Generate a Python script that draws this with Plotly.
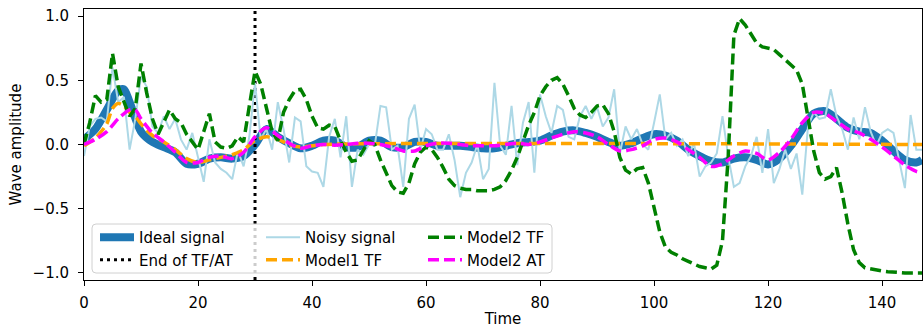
import plotly.graph_objects as go

# ---------------- data ----------------
ideal_t = [0, 2, 4, 6, 7, 8, 10, 12, 14, 16, 18, 20, 22, 24, 26, 28, 30, 32, 34, 36, 38, 40,
           42, 44, 46, 48, 50, 52, 54, 56, 58, 60, 62, 64, 66, 68, 70, 72, 74, 76, 78, 80,
           82, 84, 86, 88, 90, 92, 94, 96, 98, 100, 102, 104, 106, 108, 110, 112, 114, 116,
           118, 120, 122, 124, 126, 128, 130, 132, 134, 136, 138, 140, 142, 144, 146, 147]
ideal_y = [0.04, 0.12, 0.27, 0.42, 0.43, 0.33, 0.1, 0.02, -0.02, -0.06, -0.15, -0.15, -0.11,
           -0.1, -0.11, -0.09, 0.0, 0.12, 0.06, 0.01, -0.03, -0.01, 0.03, 0.03, -0.02, -0.02,
           0.03, 0.03, -0.02, -0.02, 0.02, 0.02, -0.01, -0.01, -0.01, -0.02, -0.03, -0.03,
           -0.01, 0.01, 0.02, 0.03, 0.07, 0.1, 0.11, 0.09, 0.06, 0.02, -0.01, 0.01, 0.05,
           0.08, 0.07, 0.03, -0.04, -0.09, -0.13, -0.14, -0.11, -0.1, -0.12, -0.155, -0.11,
           -0.01, 0.12, 0.24, 0.26, 0.2, 0.13, 0.1, 0.09, 0.03, -0.05, -0.12, -0.14, -0.12]

noisy_y = [-0.09, 0.14, 0.2, 0.21, 0.18, 0.6, 0.33, 0.37, -0.04, 0.2,
           0.53, 0.45, 0.14, 0.09, 0.22, 0.12, 0.2, 0.04, -0.04, 0.09,
           -0.1, -0.29, 0.04, -0.14, -0.19, -0.22, -0.27, -0.05, -0.17, 0.06,
           0.48, 0.04, 0.12, -0.04, 0.33, 0.12, -0.14, 0.21, 0.18, -0.17,
           -0.21, -0.22, -0.33, 0.06, 0.2, -0.1, 0.22, -0.33, -0.04, -0.08,
           0.0, -0.01, 0.3, 0.29, -0.04, -0.01, -0.33, 0.2, 0.31, -0.04,
           0.12, 0.08, -0.04, -0.04, 0.08, -0.12, -0.41, -0.22, -0.14, 0.0,
           -0.27, -0.19, 0.48, -0.01, -0.08, 0.3, -0.16, 0.17, 0.33, -0.22,
           0.39, 0.22, 0.09, 0.3, 0.27, 0.06, 0.04, 0.22, 0.3, 0.2,
           0.29, 0.14, 0.21, 0.43, -0.07, 0.14, 0.04, 0.12, 0.0, -0.04,
           0.17, 0.39, 0.04, 0.09, -0.01, 0.04, -0.09, 0.01, -0.25, -0.17,
           -0.14, -0.07, 0.22, -0.09, -0.33, -0.3, -0.17, -0.09, 0.06, -0.22,
           0.12, -0.3, -0.19, -0.04, -0.19, -0.07, -0.39, 0.14, 0.25, 0.2,
           0.21, 0.43, 0.22, 0.12, -0.04, 0.21, 0.04, 0.29, 0.1, -0.01,
           0.09, 0.12, 0.09, -0.14, -0.34, 0.23, -0.04, -0.04]
noisy_t = list(range(len(noisy_y)))

model1_t = [0, 2, 3, 4, 5, 6, 7, 8, 9, 10, 12, 14, 16, 18, 20, 22, 24, 26, 28, 30, 32, 34,
            36, 38, 40, 42, 147]
model1_y = [-0.01, 0.05, 0.1, 0.16, 0.28, 0.32, 0.3, 0.25, 0.22, 0.16, 0.07, 0.02, -0.04,
            -0.11, -0.14, -0.12, -0.1, -0.08, -0.04, 0.03, 0.06, 0.04, 0.0, -0.02, -0.01,
            0.0, 0.0]

model2tf_y = [0.0, 0.17, 0.38, 0.33, 0.35, 0.71, 0.45, 0.33, 0.22, 0.28,
              0.63, 0.4, 0.2, 0.08, 0.18, 0.27, 0.2, 0.17, 0.08, 0.02,
              -0.04, 0.1, 0.24, 0.02, -0.02, -0.03, -0.01, 0.06, 0.02, 0.3,
              0.57, 0.47, 0.27, 0.1, 0.03, 0.25, 0.35, 0.42, 0.43, 0.35,
              0.22, 0.13, 0.12, 0.15, 0.14, 0.03, -0.06, -0.13, -0.12, -0.04,
              0.03, 0.0, -0.12, -0.22, -0.32, -0.37, -0.38, -0.3, -0.15, -0.06,
              -0.02, -0.04, -0.1, -0.18, -0.27, -0.32, -0.34, -0.35, -0.35, -0.36,
              -0.36, -0.36, -0.35, -0.33, -0.28, -0.2, -0.1, 0.03, 0.15, 0.25,
              0.38, 0.45, 0.5, 0.52, 0.47, 0.38, 0.28, 0.23, 0.21, 0.25,
              0.3, 0.31, 0.24, 0.1, -0.1, -0.2, -0.23, -0.19, -0.18, -0.3,
              -0.5, -0.68, -0.8, -0.84, -0.86, -0.89, -0.91, -0.93, -0.95, -0.96,
              -0.97, -0.94, -0.75, -0.1, 0.85, 0.98, 0.93, 0.86, 0.79, 0.76,
              0.75, 0.74, 0.7, 0.66, 0.62, 0.58, 0.47, 0.2, -0.05, -0.22,
              -0.27, -0.25, -0.18, -0.38, -0.62, -0.82, -0.92, -0.96, -0.97, -0.98,
              -0.985, -0.99, -0.995, -1.0, -1.0, -1.0, -1.0, -1.0]
model2tf_t = list(range(len(model2tf_y)))

model2at_t = [0, 2, 4, 6, 8, 9, 10, 12, 14, 16, 18, 20, 22, 24, 26, 28, 30, 32, 34, 36, 38,
              40, 42, 44, 46, 48, 50, 52, 54, 56, 58, 60, 62, 64, 66, 68, 70, 72, 74, 76,
              78, 80, 82, 84, 86, 88, 90, 92, 94, 96, 98, 100, 102, 104, 106, 108, 110, 112,
              114, 116, 118, 120, 122, 124, 126, 128, 130, 132, 134, 136, 138, 140, 142,
              144, 146, 147]
model2at_y = [0.0, 0.04, 0.1, 0.2, 0.27, 0.27, 0.2, 0.09, 0.02, -0.06, -0.14, -0.14, -0.1,
              -0.09, -0.11, -0.06, 0.06, 0.13, 0.07, 0.01, -0.03, -0.01, 0.0, -0.005, 0.0,
              0.01, 0.01, 0.0, -0.02, -0.05, -0.05, -0.01, 0.01, 0.01, 0.0, -0.01, -0.01,
              -0.01, 0.0, 0.01, 0.0, 0.02, 0.05, 0.08, 0.1, 0.09, 0.06, 0.0, -0.05, -0.04,
              -0.01, 0.04, 0.05, 0.02, -0.04, -0.1, -0.17, -0.15, -0.09, -0.05, -0.07, -0.12,
              -0.06, 0.04, 0.17, 0.25, 0.24, 0.18, 0.12, 0.09, 0.04, -0.02, -0.09, -0.16,
              -0.21, -0.22]

tf_end = 30
x_range = [0, 147]
y_range = [-1.055, 1.055]
x_ticks = [0, 20, 40, 60, 80, 100, 120, 140]
y_ticks = [-1.0, -0.5, 0.0, 0.5, 1.0]

# ---------------- figure ----------------
FONT = "DejaVu Sans"
FS = 15
fig = go.Figure()

fig.add_trace(go.Scatter(x=ideal_t, y=ideal_y, mode="lines", name="Ideal signal",
                         line=dict(color="#1f77b4", width=8, shape="spline", smoothing=0.8),
                         legend="legend"))
fig.add_trace(go.Scatter(x=[tf_end, tf_end], y=y_range, mode="lines", name="End of TF/AT",
                         line=dict(color="black", width=3, dash="3px,4px"),
                         legend="legend"))
fig.add_trace(go.Scatter(x=noisy_t, y=noisy_y, mode="lines", name="Noisy signal",
                         line=dict(color="#add8e6", width=2), legend="legend2"))
fig.add_trace(go.Scatter(x=model1_t, y=model1_y, mode="lines", name="Model1 TF",
                         line=dict(color="#ffa500", width=3.5, dash="11px,5px",
                                   shape="spline", smoothing=0.8),
                         legend="legend2"))
fig.add_trace(go.Scatter(x=model2tf_t, y=model2tf_y, mode="lines", name="Model2 TF",
                         line=dict(color="#008000", width=3.5, dash="11px,5px"),
                         legend="legend3"))
fig.add_trace(go.Scatter(x=model2at_t, y=model2at_y, mode="lines", name="Model2 AT",
                         line=dict(color="#ff00ff", width=3.5, dash="11px,5px",
                                   shape="spline", smoothing=0.8),
                         legend="legend3"))

W, H = 923, 328
L, R, T, B = 84, 1, 9, 48
pw, ph = W - L - R, H - T - B


def px_x(p):
    return (p - L) / pw


def px_y(p):
    return (H - B - p) / ph


leg_common = dict(bgcolor="rgba(0,0,0,0)", borderwidth=0, itemwidth=34,
                  font=dict(family=FONT, size=FS, color="black"),
                  xanchor="left", yanchor="top", orientation="v", tracegroupgap=0)
fig.update_layout(
    legend=dict(x=px_x(95), y=px_y(221), **leg_common),
    legend2=dict(x=px_x(261), y=px_y(221), **leg_common),
    legend3=dict(x=px_x(423), y=px_y(221), **leg_common),
)

# rounded legend frame (pixel geometry converted to paper coords)
bx0, bx1, by0, by1, rad = 92, 552, 224, 273, 4
X0, X1 = px_x(bx0), px_x(bx1)
Ytop, Ybot = px_y(by0), px_y(by1)
rx, ry = rad / pw, rad / ph
frame_path = (f"M {X0 + rx},{Ytop} L {X1 - rx},{Ytop} Q {X1},{Ytop} {X1},{Ytop - ry} "
              f"L {X1},{Ybot + ry} Q {X1},{Ybot} {X1 - rx},{Ybot} "
              f"L {X0 + rx},{Ybot} Q {X0},{Ybot} {X0},{Ybot + ry} "
              f"L {X0},{Ytop - ry} Q {X0},{Ytop} {X0 + rx},{Ytop} Z")
fig.add_shape(type="path", xref="paper", yref="paper", path=frame_path,
              line=dict(color="#d0d0d0", width=1), fillcolor="rgba(255,255,255,0.8)",
              layer="above")

axis_common = dict(showline=True, linecolor="black", linewidth=1, mirror=True,
                   ticks="outside", ticklen=5, tickwidth=1, tickcolor="black",
                   showgrid=False, zeroline=False, automargin=False,
                   tickfont=dict(family=FONT, size=FS, color="black"))
fig.update_xaxes(range=x_range, tickvals=x_ticks, ticklabelstandoff=4,
                 title=dict(text="Time", font=dict(family=FONT, size=FS, color="black"), standoff=4),
                 **axis_common)
fig.update_yaxes(range=y_range, tickvals=y_ticks, tickformat=".1f", ticklabelstandoff=6,
                 title=dict(text="Wave amplitude", font=dict(family=FONT, size=FS, color="black"), standoff=7),
                 **axis_common)

fig.update_layout(width=W, height=H, margin=dict(l=L, r=R, t=T, b=B, autoexpand=False),
                  plot_bgcolor="white", paper_bgcolor="white",
                  font=dict(family=FONT, size=FS, color="black"))

fig.write_html("out.html", config={"displayModeBar": False},
               post_script="document.body.style.margin='0px';document.body.style.overflow='hidden';")
